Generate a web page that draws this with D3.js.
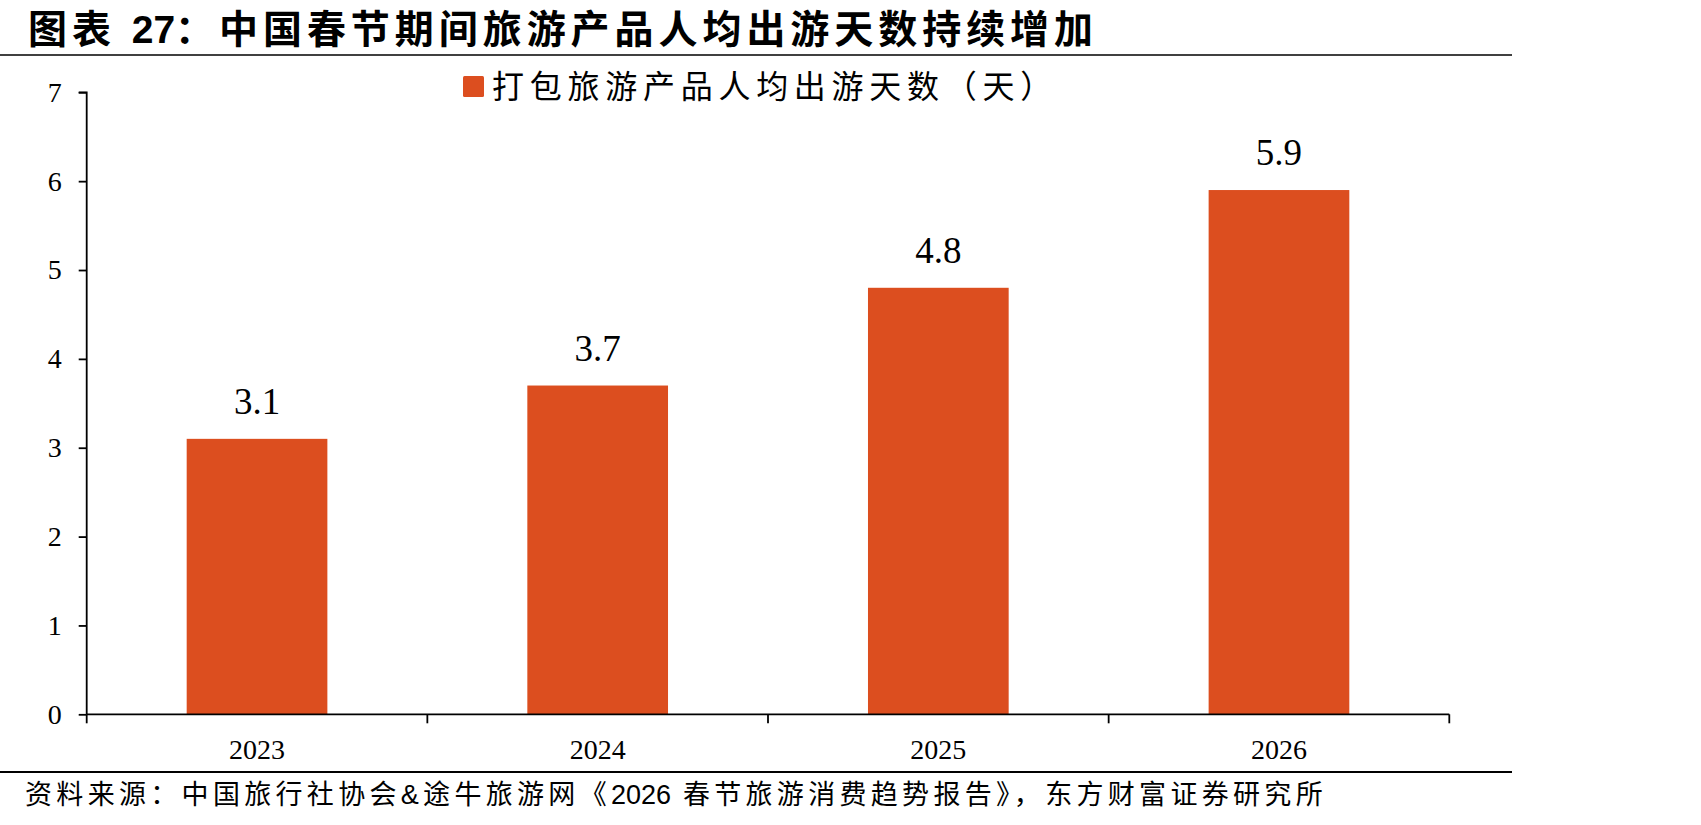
<!DOCTYPE html>
<html>
<head>
<meta charset="utf-8">
<script src="https://cdn.jsdelivr.net/npm/d3@7"></script>
<style>
  body { margin: 0; background: #fff; }
  svg { display: block; }
  .axis path, .axis line { stroke: #000; stroke-width: 1.8; }
  .axis text { font-family: "Liberation Serif", serif; font-size: 28px; fill: #000; }
</style>
</head>
<body>
<div id="chart-area"></div>
<script>
// data
const years = ["2023", "2024", "2025", "2026"];
const days = [3.1, 3.7, 4.8, 5.9];
const yTicks = [0, 1, 2, 3, 4, 5, 6, 7];

// text pieces: digits kept apart so only the CJK runs get extra spacing
const titleParts = ["图表 ", "27", "：中国春节期间旅游产品人均出游天数持续增加"];
const legendText = "打包旅游产品人均出游天数（天）";
const sourceParts = ["资料来源：中国旅行社协会&途牛旅游网《", "2026", " 春节旅游消费趋势报告》，东方财富证券研究所"];

const W = 1701, H = 825;
const MARGIN = { LEFT: 86.7, RIGHT: 251.7, TOP: 92.3, BOTTOM: 110.7 };
const WIDTH = W - MARGIN.LEFT - MARGIN.RIGHT;
const HEIGHT = H - MARGIN.TOP - MARGIN.BOTTOM;
const barColor = "#DC4E1F";

const svg = d3.select("#chart-area").append("svg")
  .attr("width", W)
  .attr("height", H)

// fit a text to a target width by spreading spacing over the non-digit runs
const fitText = (sel, parts, target) => {
  const tspans = sel.selectAll("tspan")
    .data(parts)
    .enter().append("tspan")
    .text(d => d)
  const spaced = tspans.filter(d => !/^\d+$/.test(d));
  const natural = sel.node().getComputedTextLength();
  const n = d3.sum(parts.filter(d => !/^\d+$/.test(d)), d => d.length);
  spaced.style("letter-spacing", `${(target - natural) / n}px`);
}

// title + rules
const title = svg.append("text")
  .attr("x", 28)
  .attr("y", 43)
  .style("font-family", "'Liberation Sans', 'Noto Sans CJK SC', sans-serif")
  .style("font-weight", "bold")
  .style("font-size", "39px")
fitText(title, titleParts, 1070);

svg.append("line")
  .attr("x1", 0).attr("x2", 1512)
  .attr("y1", 55).attr("y2", 55)
  .attr("stroke", "#000").attr("stroke-width", 1.6);

svg.append("line")
  .attr("x1", 0).attr("x2", 1512)
  .attr("y1", 772).attr("y2", 772)
  .attr("stroke", "#000").attr("stroke-width", 1.8);

const source = svg.append("text")
  .attr("x", 25)
  .attr("y", 804)
  .style("font-family", "'Liberation Sans', 'Noto Sans CJK SC', sans-serif")
  .style("font-size", "27px")
fitText(source, sourceParts, 1302);

const g = svg.append("g")
  .attr("transform", `translate(${MARGIN.LEFT}, ${MARGIN.TOP})`)

// scales
const xCat = d3.scaleBand()
  .domain(years)
  .range([0, WIDTH])
  .padding(0)

const x = d3.scaleBand()
  .domain(years)
  .range([0, WIDTH])
  .paddingInner(0.587)
  .paddingOuter(0.2935)

const y = d3.scaleLinear()
  .domain([0, 7])
  .range([HEIGHT, 0])

// bars
g.selectAll("rect.bar")
  .data(days)
  .enter().append("rect")
  .attr("class", "bar")
  .attr("x", (d, i) => x(years[i]))
  .attr("y", d => y(d))
  .attr("width", x.bandwidth())
  .attr("height", d => HEIGHT - y(d))
  .attr("fill", barColor)

g.selectAll("text.val")
  .data(days)
  .enter().append("text")
  .attr("class", "val")
  .attr("x", (d, i) => x(years[i]) + x.bandwidth() / 2)
  .attr("y", d => y(d) - 25)
  .attr("text-anchor", "middle")
  .style("font-family", "'Liberation Serif', serif")
  .style("font-size", "37px")
  .text(d => d.toFixed(1))

// axes
const yAxisCall = d3.axisLeft(y)
  .tickValues(yTicks)
  .tickSize(8)
  .tickPadding(17)
  .tickFormat(d => d)

g.append("g")
  .attr("class", "axis yAxis")
  .call(yAxisCall)
  .call(s => s.select(".domain").attr("d", `M-8,0H0V${HEIGHT}`))

const xAxisCall = d3.axisBottom(xCat)
  .tickSize(0)
  .tickPadding(25)

g.append("g")
  .attr("class", "axis xAxis")
  .attr("transform", `translate(0, ${HEIGHT})`)
  .call(xAxisCall)
  .call(s => s.select(".domain").attr("d", `M0,0H${WIDTH}`))

// boundary ticks on the category axis
const bounds = years.map(d => xCat(d)).concat([WIDTH]);
g.select(".xAxis").selectAll("line.bound")
  .data(bounds)
  .enter().append("line")
  .attr("class", "bound")
  .attr("x1", d => d).attr("x2", d => d)
  .attr("y1", 0).attr("y2", 9)

// legend
svg.append("rect")
  .attr("x", 463).attr("y", 76)
  .attr("width", 21).attr("height", 21)
  .attr("rx", 1.5)
  .attr("fill", barColor)

const legend = svg.append("text")
  .attr("x", 492)
  .attr("y", 98)
  .style("font-family", "'Noto Sans CJK SC', sans-serif")
  .style("font-size", "32px")
fitText(legend, [legendText], 566);
</script>
</body>
</html>
